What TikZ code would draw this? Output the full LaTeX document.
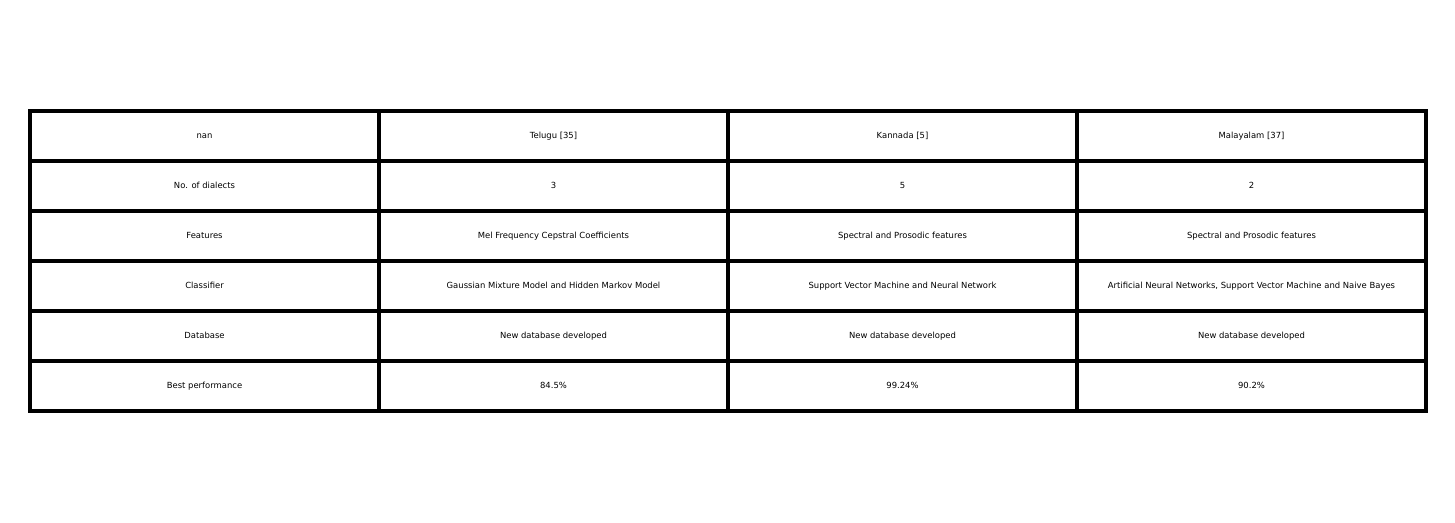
\documentclass[tikz,border=0pt]{standalone}
\usepackage{fontspec}
\setmainfont{DejaVu Sans}
\usetikzlibrary{calc}

\begin{document}
\begin{tikzpicture}[x=0.02cm, y=-0.02cm,
  cell/.style={draw, line width=2.2pt, minimum width=6.98cm, minimum height=1cm,
    inner sep=0pt, text height=3.6pt, text depth=1.1pt,
    font=\fontsize{4.8}{5.5}\selectfont}]
\useasboundingbox (0, 0) rectangle (1455, 522);
\foreach \a/\b/\c/\d [count=\i] in {
  nan/Telugu [35]/Kannada [5]/Malayalam [37],
  No. of dialects/3/5/2,
  Features/Mel Frequency Cepstral Coefficients/Spectral and Prosodic features/Spectral and Prosodic features,
  Classifier/Gaussian Mixture Model and Hidden Markov Model/Support Vector Machine and Neural Network/{Artificial Neural Networks, Support Vector Machine and Naive Bayes},
  Database/New database developed/New database developed/New database developed,
  Best performance/84.5\%/99.24\%/90.2\%}
{
  \node (cell-\i-1) at (204.5, 86 + 50*\i) [cell] {\a};
  \node (cell-\i-2) at (553.5, 86 + 50*\i) [cell] {\b};
  \node (cell-\i-3) at (902.5, 86 + 50*\i) [cell] {\c};
  \node (cell-\i-4) at (1251.5, 86 + 50*\i) [cell] {\d};
}
\end{tikzpicture}
\end{document}
